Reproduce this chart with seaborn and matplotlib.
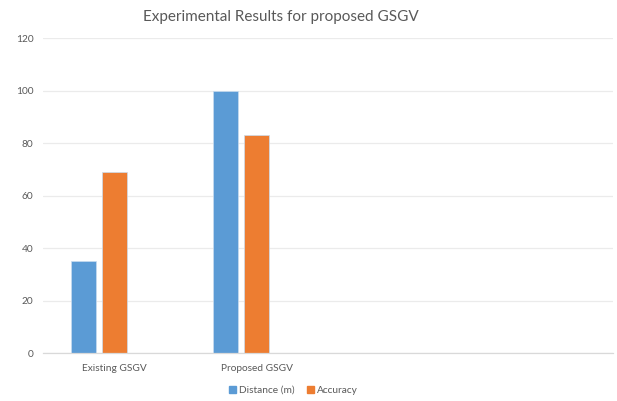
import numpy as np
import pandas as pd
import matplotlib
matplotlib.use("Agg")
import matplotlib.pyplot as plt
import seaborn as sns

# chart values
categories = ["Existing GSGV", "Proposed GSGV", "", " "]
distance = [35, 100, np.nan, np.nan]
accuracy = [69, 83, np.nan, np.nan]
spare = [np.nan, np.nan, np.nan, np.nan]  # empty third series slot, as in the original sheet
series_names = ["Distance (m)", "Accuracy", "_spare"]
y_ticks = [0, 20, 40, 60, 80, 100, 120]


def build_frame():
    rows = []
    for name, vals in zip(series_names, [distance, accuracy, spare]):
        for cat, v in zip(categories, vals):
            rows.append({"category": cat, "series": name, "value": v})
    return pd.DataFrame(rows)


def main():
    sns.set_theme(style="white")
    plt.rcParams["font.family"] = ["Lato", "DejaVu Sans"]

    df = build_frame()
    colors = {"Distance (m)": "#5B9BD5", "Accuracy": "#ED7D31", "_spare": "#A5A5A5"}

    fig = plt.figure(figsize=(6.17, 4.01), dpi=100)
    ax = fig.add_axes([0.0697, 0.1197, 0.9238, 0.7855])

    sns.barplot(data=df, x="category", y="value", hue="series", order=categories,
                hue_order=series_names, palette=colors, saturation=1, width=0.65, gap=0.19,
                edgecolor="#C9DDF0", linewidth=0.5, ax=ax, legend=False)

    ax.set_ylim(0, 120)
    ax.set_xlim(-0.5, 3.5)
    ax.set_yticks(y_ticks)
    ax.yaxis.grid(True, color="#EBEBEB", linewidth=0.9)
    ax.set_axisbelow(True)
    for side in ["left", "right", "top"]:
        ax.spines[side].set_visible(False)
    ax.spines["bottom"].set_color("#D9D9D9")
    ax.spines["bottom"].set_linewidth(0.9)
    ax.tick_params(axis="y", length=0, pad=7, labelsize=7.3, labelcolor="#595959")
    ax.tick_params(axis="x", length=0, pad=8, labelsize=7.3, labelcolor="#595959")
    ax.set_xlabel("")
    ax.set_ylabel("")

    fig.text(0.455, 0.958, "Experimental Results for proposed GSGV",
             ha="center", va="center", fontsize=11, color="#595959")

    handles = [plt.Rectangle((0, 0), 1, 1, color=colors[n]) for n in series_names[:2]]
    fig.legend(handles, series_names[:2], loc="center", bbox_to_anchor=(0.476, 0.027),
               ncol=2, frameon=False, fontsize=7.3, handlelength=0.7, handleheight=0.7,
               handletextpad=0.3, columnspacing=1.2, labelcolor="#595959")

    fig.savefig("out.png", dpi=100)


if __name__ == "__main__":
    main()
